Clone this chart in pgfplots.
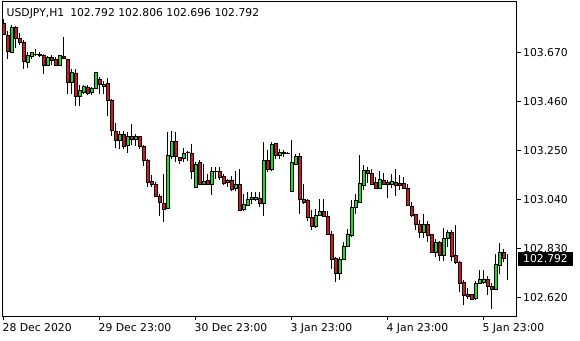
\documentclass[border=0pt]{standalone}
\usepackage{fontspec}
\setmainfont{DejaVu Sans}
\usepackage{pgfplots}
\usepackage{pgfplotstable}
\pgfplotsset{compat=1.18}
\definecolor{cgreen}{RGB}{30,220,30}
\definecolor{cred}{RGB}{220,20,20}

\pgfplotstableread{
i o h l c
0 103.794 103.816 103.745 103.751
1 103.744 103.765 103.645 103.675
2 103.672 103.787 103.670 103.780
3 103.780 103.784 103.690 103.730
4 103.732 103.753 103.701 103.713
5 103.713 103.723 103.601 103.633
6 103.630 103.675 103.604 103.658
7 103.655 103.675 103.644 103.670
8 103.664 103.687 103.655 103.663
9 103.664 103.671 103.650 103.660
10 103.661 103.666 103.580 103.618
11 103.615 103.658 103.612 103.651
12 103.650 103.661 103.618 103.636
13 103.641 103.650 103.615 103.618
14 103.618 103.661 103.615 103.658
15 103.654 103.737 103.642 103.644
16 103.644 103.644 103.494 103.544
17 103.544 103.601 103.494 103.584
18 103.584 103.601 103.441 103.484
19 103.484 103.530 103.441 103.507
20 103.501 103.530 103.494 103.524
21 103.522 103.533 103.487 103.498
22 103.501 103.521 103.490 103.516
23 103.516 103.587 103.513 103.584
24 103.555 103.564 103.492 103.533
25 103.524 103.547 103.492 103.533
26 103.537 103.561 103.398 103.468
27 103.468 103.473 103.315 103.336
28 103.333 103.370 103.261 103.293
29 103.293 103.336 103.258 103.321
30 103.321 103.336 103.258 103.270
31 103.273 103.330 103.241 103.310
32 103.311 103.364 103.273 103.301
33 103.298 103.323 103.270 103.312
34 103.310 103.315 103.258 103.267
35 103.267 103.273 103.184 103.209
36 103.209 103.213 103.093 103.115
37 103.118 103.144 103.093 103.107
38 103.108 103.115 103.051 103.054
39 103.054 103.066 102.972 103.027
40 103.025 103.151 102.944 103.001
41 103.004 103.330 103.001 103.230
42 103.224 103.333 103.216 103.290
43 103.290 103.330 103.201 103.224
44 103.224 103.225 103.194 103.211
45 103.216 103.263 103.201 103.241
46 103.243 103.248 103.208 103.244
47 103.241 103.277 103.130 103.162
48 103.094 103.201 103.091 103.194
49 103.200 103.211 103.101 103.105
50 103.105 103.191 103.101 103.119
51 103.122 103.151 103.101 103.105
52 103.108 103.179 103.062 103.161
53 103.161 103.179 103.130 103.160
54 103.161 103.179 103.125 103.134
55 103.140 103.151 103.101 103.111
56 103.122 103.130 103.094 103.115
57 103.122 103.140 103.077 103.085
58 103.091 103.165 103.077 103.105
59 103.105 103.170 102.991 102.994
60 102.997 103.063 102.991 103.020
61 103.014 103.072 103.011 103.042
62 103.040 103.072 103.023 103.050
63 103.042 103.071 103.034 103.050
64 103.048 103.071 103.008 103.025
65 103.025 103.287 102.972 103.208
66 103.208 103.251 103.158 103.171
67 103.171 103.287 103.162 103.277
68 103.280 103.282 103.214 103.231
69 103.231 103.258 103.214 103.245
70 103.245 103.251 103.225 103.237
71 103.240 103.243 103.237 103.239
72 103.077 103.297 103.074 103.200
73 103.191 103.234 103.187 103.225
74 103.225 103.239 102.977 103.042
75 103.042 103.108 103.023 103.031
76 103.037 103.044 102.948 102.963
77 102.963 102.994 102.911 102.925
78 102.925 103.001 102.920 102.974
79 102.974 103.044 102.972 102.991
80 102.991 103.044 102.968 102.971
81 102.971 102.991 102.889 102.891
82 102.891 102.908 102.744 102.785
83 102.788 102.794 102.687 102.723
84 102.725 102.794 102.694 102.783
85 102.783 102.858 102.780 102.840
86 102.840 102.915 102.837 102.891
87 102.887 103.037 102.879 103.006
88 103.008 103.066 102.977 103.037
89 103.031 103.230 103.025 103.111
90 103.102 103.187 103.083 103.165
91 103.165 103.182 103.111 103.154
92 103.154 103.173 103.105 103.108
93 103.114 103.137 103.089 103.091
94 103.091 103.165 103.087 103.126
95 103.122 103.154 103.106 103.108
96 103.114 103.126 103.048 103.108
97 103.108 103.151 103.091 103.117
98 103.114 103.173 103.058 103.102
99 103.111 103.148 103.083 103.102
100 103.111 103.137 103.087 103.091
101 103.091 103.108 103.011 103.015
102 103.014 103.030 102.968 102.972
103 102.977 102.980 102.911 102.934
104 102.934 102.951 102.877 102.901
105 102.901 102.977 102.877 102.934
106 102.934 102.948 102.858 102.887
107 102.891 102.894 102.811 102.815
108 102.815 102.873 102.794 102.858
109 102.858 102.865 102.777 102.800
110 102.800 102.920 102.777 102.873
111 102.873 102.911 102.837 102.900
112 102.900 102.911 102.777 102.797
113 102.800 102.930 102.765 102.771
114 102.771 102.777 102.644 102.682
115 102.685 102.694 102.587 102.630
116 102.634 102.663 102.615 102.627
117 102.633 102.637 102.609 102.612
118 102.618 102.691 102.609 102.680
119 102.682 102.737 102.680 102.699
120 102.687 102.737 102.680 102.701
121 102.701 102.715 102.630 102.671
122 102.668 102.682 102.573 102.654
123 102.654 102.808 102.651 102.762
124 102.757 102.854 102.720 102.814
125 102.814 102.830 102.772 102.791
126 102.792 102.806 102.696 102.792
}\data

\begin{document}
\begin{tikzpicture}[font=\fontsize{10.8}{13}\selectfont]
\path[use as bounding box] (0,0) rectangle (580pt,340pt);
\pgfplotsset{candleaxis/.style={at={(2pt,24pt)}, anchor=south west, scale only axis,
  width=514.5pt, height=315pt, xmin=-0.375, xmax=128.25, ymin=102.5416, ymax=103.8916}}
\begin{axis}[candleaxis,
  axis line style={black, line width=0.8pt},
  xtick={0,24,48,72,96,120},
  xticklabels={28 Dec 2020, 29 Dec 23:00, 30 Dec 23:00, 3 Jan 23:00, 4 Jan 23:00, 5 Jan 23:00},
  xtick pos=bottom, ytick pos=right, yticklabel pos=right,
  ytick={102.62,102.83,103.04,103.25,103.46,103.67},
  yticklabels={102.620,102.830,103.040,103.250,103.460,103.670},
  tick align=outside, major tick length=4pt,
  tick style={black, line width=0.8pt},
  xticklabel style={anchor=north west, inner sep=0pt, xshift=-1pt, yshift=-3.5pt},
  yticklabel style={anchor=west, inner sep=0pt, xshift=2.5pt},
]
\addplot[draw=none, mark=none, forget plot,
  error bars/.cd, y dir=plus, y explicit, error mark=none,
  error bar style={draw=black, line width=0.9pt}]
  table[x=i, y=l, y error expr=\thisrow{h}-\thisrow{l}] {\data};
\end{axis}
\begin{axis}[candleaxis, axis lines=none, ybar stacked, bar width=2.8pt]
\addplot[draw=none, fill=none] table[x=i, y expr={min(\thisrow{o},\thisrow{c})}] {\data};
\addplot[draw=black, line width=0.55pt, fill=cgreen] table[x=i, y expr={max(\thisrow{c}-\thisrow{o},0)}] {\data};
\addplot[draw=black, line width=0.55pt, fill=cred] table[x=i, y expr={max(\thisrow{o}-\thisrow{c},0)}] {\data};
\end{axis}
\node[anchor=base west, inner sep=0pt] at (6.5pt,323.3pt) {USDJPY,H1\hspace{6pt}102.792 102.806 102.696 102.792};
\node[anchor=west, fill=black, text=white, inner xsep=5pt, inner ysep=0pt, minimum height=14pt] at (518pt,81.5pt) {102.792};
\end{tikzpicture}
\end{document}
